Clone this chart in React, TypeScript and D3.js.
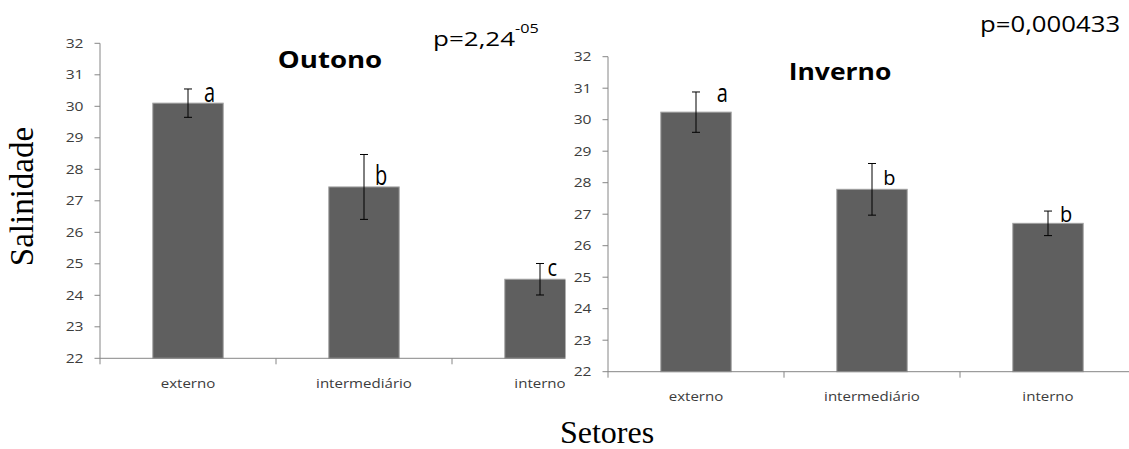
import React from 'react';
import * as d3 from 'd3';

// ---------- data ----------
const categories = ['externo', 'intermediário', 'interno'];
const yTicks = [22, 23, 24, 25, 26, 27, 28, 29, 30, 31, 32];

const outonoMeans = [30.1, 27.44, 24.51];
const outonoErrors = [0.45, 1.03, 0.5];
const outonoLetters = ['a', 'b', 'c'];

const invernoMeans = [30.24, 27.79, 26.71];
const invernoErrors = [0.64, 0.82, 0.39];
const invernoLetters = ['a', 'b', 'b'];

const outonoTitle = 'Outono';
const invernoTitle = 'Inverno';
const outonoP = 'p=2,24';
const outonoPExp = '-05';
const invernoP = 'p=0,000433';
const yLabel = 'Salinidade';
const xLabel = 'Setores';

// ---------- layout (positions/styles only) ----------
const W = 1129;
const H = 449;
const SANS = "'Open Sans', sans-serif";
const SERIF = "'Liberation Serif', 'Times New Roman', serif";
const AXIS = '#868686';
const LABEL = '#3c3c3c';

type PanelCfg = {
  x0: number; x1: number; yBottom: number; yTop: number;
  title: string; titleX: number; titleY: number; titleSx: number;
  means: number[]; errors: number[]; letters: string[];
  letterOffsets: { dx: number; dy: number; sy: number }[];
  catLabelY: number;
};

const panels: PanelCfg[] = [
  {
    x0: 100, x1: 628, yBottom: 358.3, yTop: 43.3,
    title: outonoTitle, titleX: 330, titleY: 67.7, titleSx: 1.2,
    means: outonoMeans, errors: outonoErrors, letters: outonoLetters,
    letterOffsets: [
      { dx: 16, dy: -1, sy: 1.38 },
      { dx: 11, dy: -2.4, sy: 1.38 },
      { dx: 7.5, dy: -3.3, sy: 1.22 },
    ],
    catLabelY: 387.5,
  },
  {
    x0: 608, x1: 1136, yBottom: 371.7, yTop: 56.7,
    title: invernoTitle, titleX: 840, titleY: 80, titleSx: 1.15,
    means: invernoMeans, errors: invernoErrors, letters: invernoLetters,
    letterOffsets: [
      { dx: 20.7, dy: -10.3, sy: 1.31 },
      { dx: 11.3, dy: -4.3, sy: 1.0 },
      { dx: 12, dy: -1.6, sy: 1.1 },
    ],
    catLabelY: 400.5,
  },
];

function T(props: {
  x: number; y: number; size: number; children: React.ReactNode;
  anchor?: string; sx?: number; sy?: number; weight?: string | number;
  family?: string; fill?: string; rotate?: number;
}) {
  const { x, y, size, children, anchor = 'start', sx = 1, sy = 1, weight = 'normal', family = SANS, fill = '#000', rotate } = props;
  const tr = `translate(${x},${y}) scale(${sx},${sy})` + (rotate ? ` rotate(${rotate})` : '');
  return (
    <text transform={tr} fontSize={size} fontFamily={family} fontWeight={weight} textAnchor={anchor as any} fill={fill}>
      {children}
    </text>
  );
}

function Panel({ cfg }: { cfg: PanelCfg }) {
  const x = d3.scaleBand<string>().domain(categories).range([cfg.x0, cfg.x1]).paddingInner(0.6).paddingOuter(0.3);
  const y = d3.scaleLinear().domain([22, 32]).range([cfg.yBottom, cfg.yTop]);
  const step = x.step();
  const bw = x.bandwidth();
  const boundaries = d3.range(categories.length + 1).map((i) => cfg.x0 + i * step);

  return (
    <g>
      {categories.map((c, i) => (
        <rect key={c} x={x(c)!} y={y(cfg.means[i])} width={bw} height={y(22) - y(cfg.means[i])}
          fill="#5f5f5f" stroke="#a0a0a0" strokeWidth={1} />
      ))}
      <line x1={cfg.x0} x2={cfg.x0} y1={y(32)} y2={y(22)} stroke={AXIS} strokeWidth={1} />
      {yTicks.map((t) => (
        <g key={t}>
          <line x1={cfg.x0 - 5.5} x2={cfg.x0} y1={y(t)} y2={y(t)} stroke={AXIS} strokeWidth={1} />
          <T x={cfg.x0 - 16.5} y={y(t) + 4.6} size={12.5} anchor="end" sx={1.25} fill={LABEL}>{t}</T>
        </g>
      ))}
      <line x1={cfg.x0} x2={cfg.x1} y1={y(22)} y2={y(22)} stroke={AXIS} strokeWidth={1} />
      {boundaries.map((bx, i) => (
        <line key={i} x1={bx} x2={bx} y1={y(22)} y2={y(22) + 6} stroke={AXIS} strokeWidth={1} />
      ))}
      {categories.map((c) => (
        <T key={c} x={x(c)! + bw / 2} y={cfg.catLabelY} size={13} anchor="middle" sx={1.16} fill={LABEL}>{c}</T>
      ))}
      {categories.map((c, i) => {
        const cx = x(c)! + bw / 2;
        const hi = y(cfg.means[i] + cfg.errors[i]);
        const lo = y(cfg.means[i] - cfg.errors[i]);
        return (
          <g key={c} stroke="#000" strokeWidth={1}>
            <line x1={cx} x2={cx} y1={hi} y2={lo} />
            <line x1={cx - 4} x2={cx + 4} y1={hi} y2={hi} />
            <line x1={cx - 4} x2={cx + 4} y1={lo} y2={lo} />
          </g>
        );
      })}
      {categories.map((c, i) => {
        const o = cfg.letterOffsets[i];
        const cx = x(c)! + bw / 2;
        return (
          <T key={c} x={cx + o.dx} y={y(cfg.means[i]) + o.dy} size={20} sy={o.sy}>{cfg.letters[i]}</T>
        );
      })}
      <T x={cfg.titleX} y={cfg.titleY} size={23} anchor="middle" weight="bold" sx={cfg.titleSx}>{cfg.title}</T>
    </g>
  );
}

export default function App() {
  return (
    <svg width={W} height={H} style={{ position: 'absolute', left: 0, top: 0, background: '#fff' }}>
      <rect x={0} y={0} width={W} height={H} fill="#fff" />
      <Panel cfg={panels[0]} />
      <T x={433} y={46} size={20} sx={1.3}>{outonoP}</T>
      <T x={515} y={33.3} size={13.5} sx={1.2}>{outonoPExp}</T>
      <rect x={565.5} y={0} width={W - 565.5} height={415} fill="#fff" />
      <Panel cfg={panels[1]} />
      <T x={980} y={31.7} size={22} sx={1.17}>{invernoP}</T>
      <T x={33.3} y={196.5} size={33} anchor="middle" family={SERIF} rotate={-90}>{yLabel}</T>
      <T x={607} y={443} size={32} anchor="middle" family={SERIF}>{xLabel}</T>
    </svg>
  );
}
